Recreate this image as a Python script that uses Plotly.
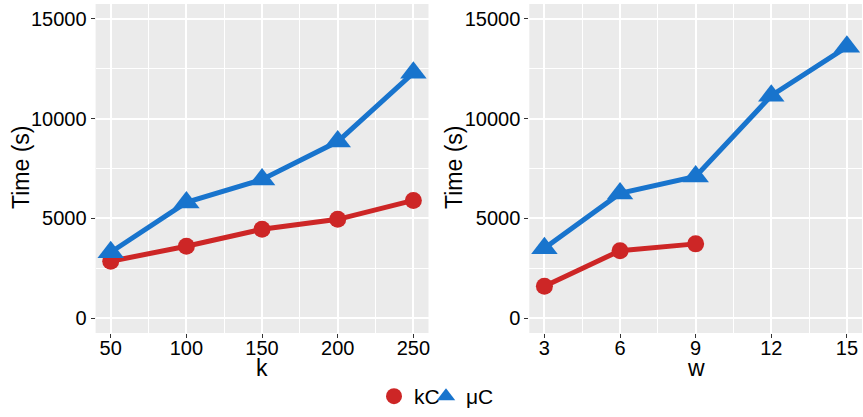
import plotly.graph_objects as go

# Runtime vs. k (left) and vs. w (right)
k_vals = [50, 100, 150, 200, 250]
k_kc = [2850, 3600, 4450, 4950, 5900]
k_uc = [3300, 5800, 6950, 8850, 12300]

w_vals = [3, 6, 9, 12, 15]
w_kc = [1600, 3380, 3720]
w_uc = [3500, 6250, 7100, 11150, 13600]

y_ticks = [0, 5000, 10000, 15000]
series_names = ["kC", "\u03bcC"]

RED = "#CD2626"
BLUE = "#1874CD"
PANEL_BG = "#EBEBEB"
FONT = "Liberation Sans, Arial, sans-serif"

W, H = 863, 417
# vertical layout positions (px from top)
Y_TOP, Y_BOT = 4, 333
Y_XLAB, Y_YLAB = 368, 168


def px_x(p):
    return p / W


def px_y(p):
    return 1 - p / H


fig = go.Figure()

line_w = 5
circ = dict(symbol="circle", size=17, color=RED)
tri = dict(symbol="triangle-up", size=23, color=BLUE)

fig.add_trace(go.Scatter(x=k_vals, y=k_kc, mode="lines+markers", line=dict(color=RED, width=line_w),
                         marker=circ, xaxis="x", yaxis="y", showlegend=False))
fig.add_trace(go.Scatter(x=k_vals, y=k_uc, mode="lines+markers", line=dict(color=BLUE, width=line_w),
                         marker=tri, xaxis="x", yaxis="y", showlegend=False))
fig.add_trace(go.Scatter(x=w_vals[:len(w_kc)], y=w_kc, mode="lines+markers", line=dict(color=RED, width=line_w),
                         marker=circ, xaxis="x2", yaxis="y2", showlegend=False))
fig.add_trace(go.Scatter(x=w_vals, y=w_uc, mode="lines+markers", line=dict(color=BLUE, width=line_w),
                         marker=tri, xaxis="x2", yaxis="y2", showlegend=False))

# legend entries (marker keys only), one legend box per series
fig.add_trace(go.Scatter(x=[None], y=[None], mode="markers", name=series_names[0], legend="legend",
                         marker=dict(symbol="circle", size=16, color=RED), xaxis="x", yaxis="y"))
fig.add_trace(go.Scatter(x=[None], y=[None], mode="markers", name=series_names[1], legend="legend2",
                         marker=dict(symbol="triangle-up", size=16, color=BLUE), xaxis="x", yaxis="y"))

y_dom = [px_y(Y_BOT), px_y(Y_TOP)]
tick_font = dict(family=FONT, size=20, color="#000000")


def xaxis(domain, rng, tickvals, minor0, minordt, anchor):
    return dict(domain=domain, range=rng, tickvals=tickvals, ticktext=[str(v) for v in tickvals],
                showgrid=True, gridcolor="white", gridwidth=1.6, zeroline=False,
                ticks="outside", ticklen=4, tickcolor="#333333", tickwidth=1,
                ticklabelstandoff=-7,
                tickfont=tick_font, anchor=anchor, showline=False, automargin=False,
                minor=dict(tick0=minor0, dtick=minordt, showgrid=True, gridcolor="white",
                           gridwidth=0.8, ticks=""))


def yaxis(anchor):
    return dict(domain=y_dom, range=[-750, 15750], tickvals=y_ticks,
                ticktext=[str(v) for v in y_ticks],
                showgrid=True, gridcolor="white", gridwidth=1.6, zeroline=False,
                ticks="outside", ticklen=4, tickcolor="#333333", tickwidth=1,
                tickfont=tick_font, anchor=anchor, showline=False, automargin=False,
                minor=dict(tick0=2500, dtick=5000, showgrid=True, gridcolor="white",
                           gridwidth=0.8, ticks=""))


# legends sit flush with the bottom edge so they never push the margins
legend_common = dict(orientation="h", yanchor="bottom", y=0, xanchor="left",
                     font=dict(family=FONT, size=21), itemwidth=30,
                     bgcolor="rgba(0,0,0,0)")

title_font = dict(family=FONT, size=23)


def label(text, x, y, angle=0):
    return dict(text=text, textangle=angle, x=px_x(x), y=px_y(y), xref="paper", yref="paper",
                xanchor="center", yanchor="middle", showarrow=False, font=title_font)


fig.update_layout(
    width=W, height=H,
    margin=dict(l=0, r=0, t=0, b=0),
    paper_bgcolor="white",
    plot_bgcolor=PANEL_BG,
    font=dict(family=FONT, color="#000000"),
    xaxis=xaxis([px_x(95.6), px_x(428.5)], [40, 260], k_vals, 25, 50, "y"),
    yaxis=yaxis("x"),
    xaxis2=xaxis([px_x(529.3), px_x(862)], [2.4, 15.6], w_vals, 1.5, 3, "y2"),
    yaxis2=yaxis("x2"),
    legend=dict(legend_common, x=px_x(374)),
    legend2=dict(legend_common, x=px_x(426)),
    annotations=[
        label("Time (s)", 21, Y_YLAB, -90),
        label("Time (s)", 454, Y_YLAB, -90),
        label("k", 262, Y_XLAB),
        label("w", 695.6, Y_XLAB),
    ],
)

fig.write_html("out.html")
